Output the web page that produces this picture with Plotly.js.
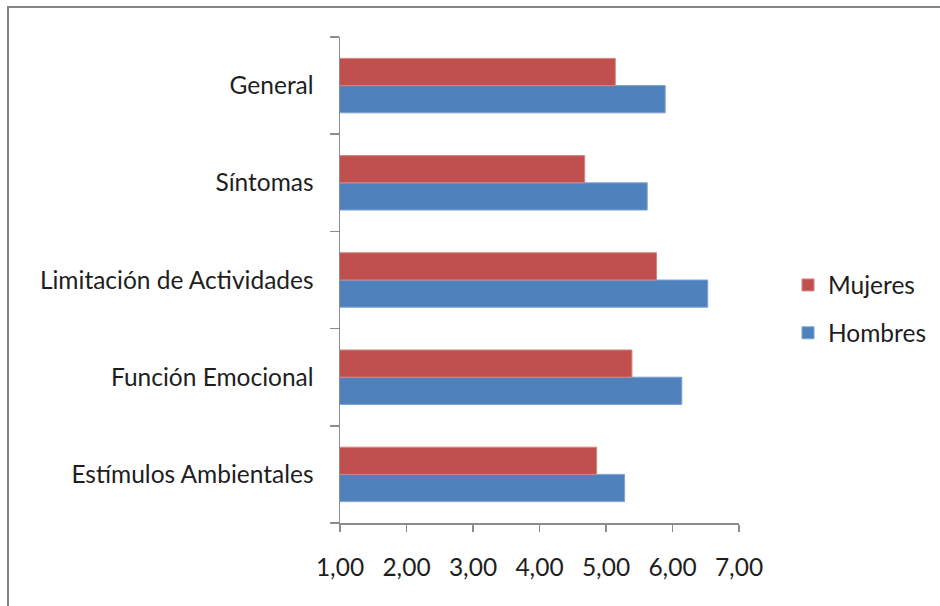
<!DOCTYPE html>
<html>
<head>
<meta charset="utf-8">
<script src="https://cdn.plot.ly/plotly-3.0.1.min.js"></script>
<style>html,body{margin:0;padding:0;background:#fff;}#chart{width:940px;height:606px;}</style>
</head>
<body>
<div id="chart"></div>
<script>
const categories = ["Estímulos Ambientales", "Función Emocional", "Limitación de Actividades", "Síntomas", "General"];
const hombres = [5.28, 6.14, 6.53, 5.62, 5.89];
const mujeres = [4.86, 5.39, 5.76, 4.68, 5.14];
const xTickVals = [1, 2, 3, 4, 5, 6, 7];

const FONT = "Lato, 'Open Sans', sans-serif";
const TXT = '#1e1e1e';
const traces = [
  {type: 'bar', orientation: 'h', name: 'Hombres', legendgroup: 'h', legendrank: 2, y: categories, x: hombres,
   marker: {color: '#4F81BD', line: {color: '#7FA3D3', width: 1}}},
  {type: 'bar', orientation: 'h', name: 'Mujeres', legendgroup: 'm', legendrank: 1, y: categories, x: mujeres,
   marker: {color: '#C0504D', line: {color: '#D48684', width: 1}}}
];

const L = 340, R = 739, T = 37, B = 523, W = 940, H = 606;
const px = v => (v - L) / (R - L);
const py = v => (B - v) / (B - T);

const layout = {
  width: W, height: H,
  margin: {l: L, r: W - R, t: T, b: H - B, pad: 0, autoexpand: false},
  barmode: 'group', bargap: 0.44, bargroupgap: 0,
  separators: ',.',
  font: {family: FONT, size: 24.5, color: TXT},
  paper_bgcolor: '#fff', plot_bgcolor: '#fff',
  showlegend: true,
  legend: {xref: 'container', yref: 'container', x: 788 / W, y: 1 - 309 / H, xanchor: 'left', yanchor: 'middle',
           traceorder: 'grouped',
           font: {family: FONT, size: 24.5, color: TXT}, bgcolor: 'rgba(0,0,0,0)', tracegroupgap: 13,
           itemwidth: 30},
  xaxis: {range: [1, 7], tickvals: xTickVals, tickformat: '.2f', showgrid: false, zeroline: false,
          showline: true, linecolor: '#8C8C8C', linewidth: 1.5, ticks: 'outside', ticklen: 7,
          tickcolor: '#8C8C8C', tickwidth: 1.5, fixedrange: true, ticklabelstandoff: 15,
          tickfont: {family: FONT, size: 24.5, color: TXT}},
  yaxis: {type: 'category', categoryorder: 'array', categoryarray: categories,
          showgrid: false, zeroline: false, showline: true, linecolor: '#8C8C8C', linewidth: 1.5,
          ticks: 'outside', ticklen: 9, tickcolor: '#8C8C8C', tickwidth: 1.5, tickson: 'boundaries',
          fixedrange: true, ticklabelstandoff: 20, tickfont: {family: FONT, size: 24.5, color: TXT}},
  shapes: [
    {type: 'rect', xref: 'paper', yref: 'paper', x0: px(8), x1: px(948), y0: py(614), y1: py(7),
     line: {color: '#868686', width: 2}, fillcolor: 'rgba(0,0,0,0)', layer: 'below'}
  ]
};

Plotly.newPlot('chart', traces, layout, {displayModeBar: false, staticPlot: true});
</script>
</body>
</html>
